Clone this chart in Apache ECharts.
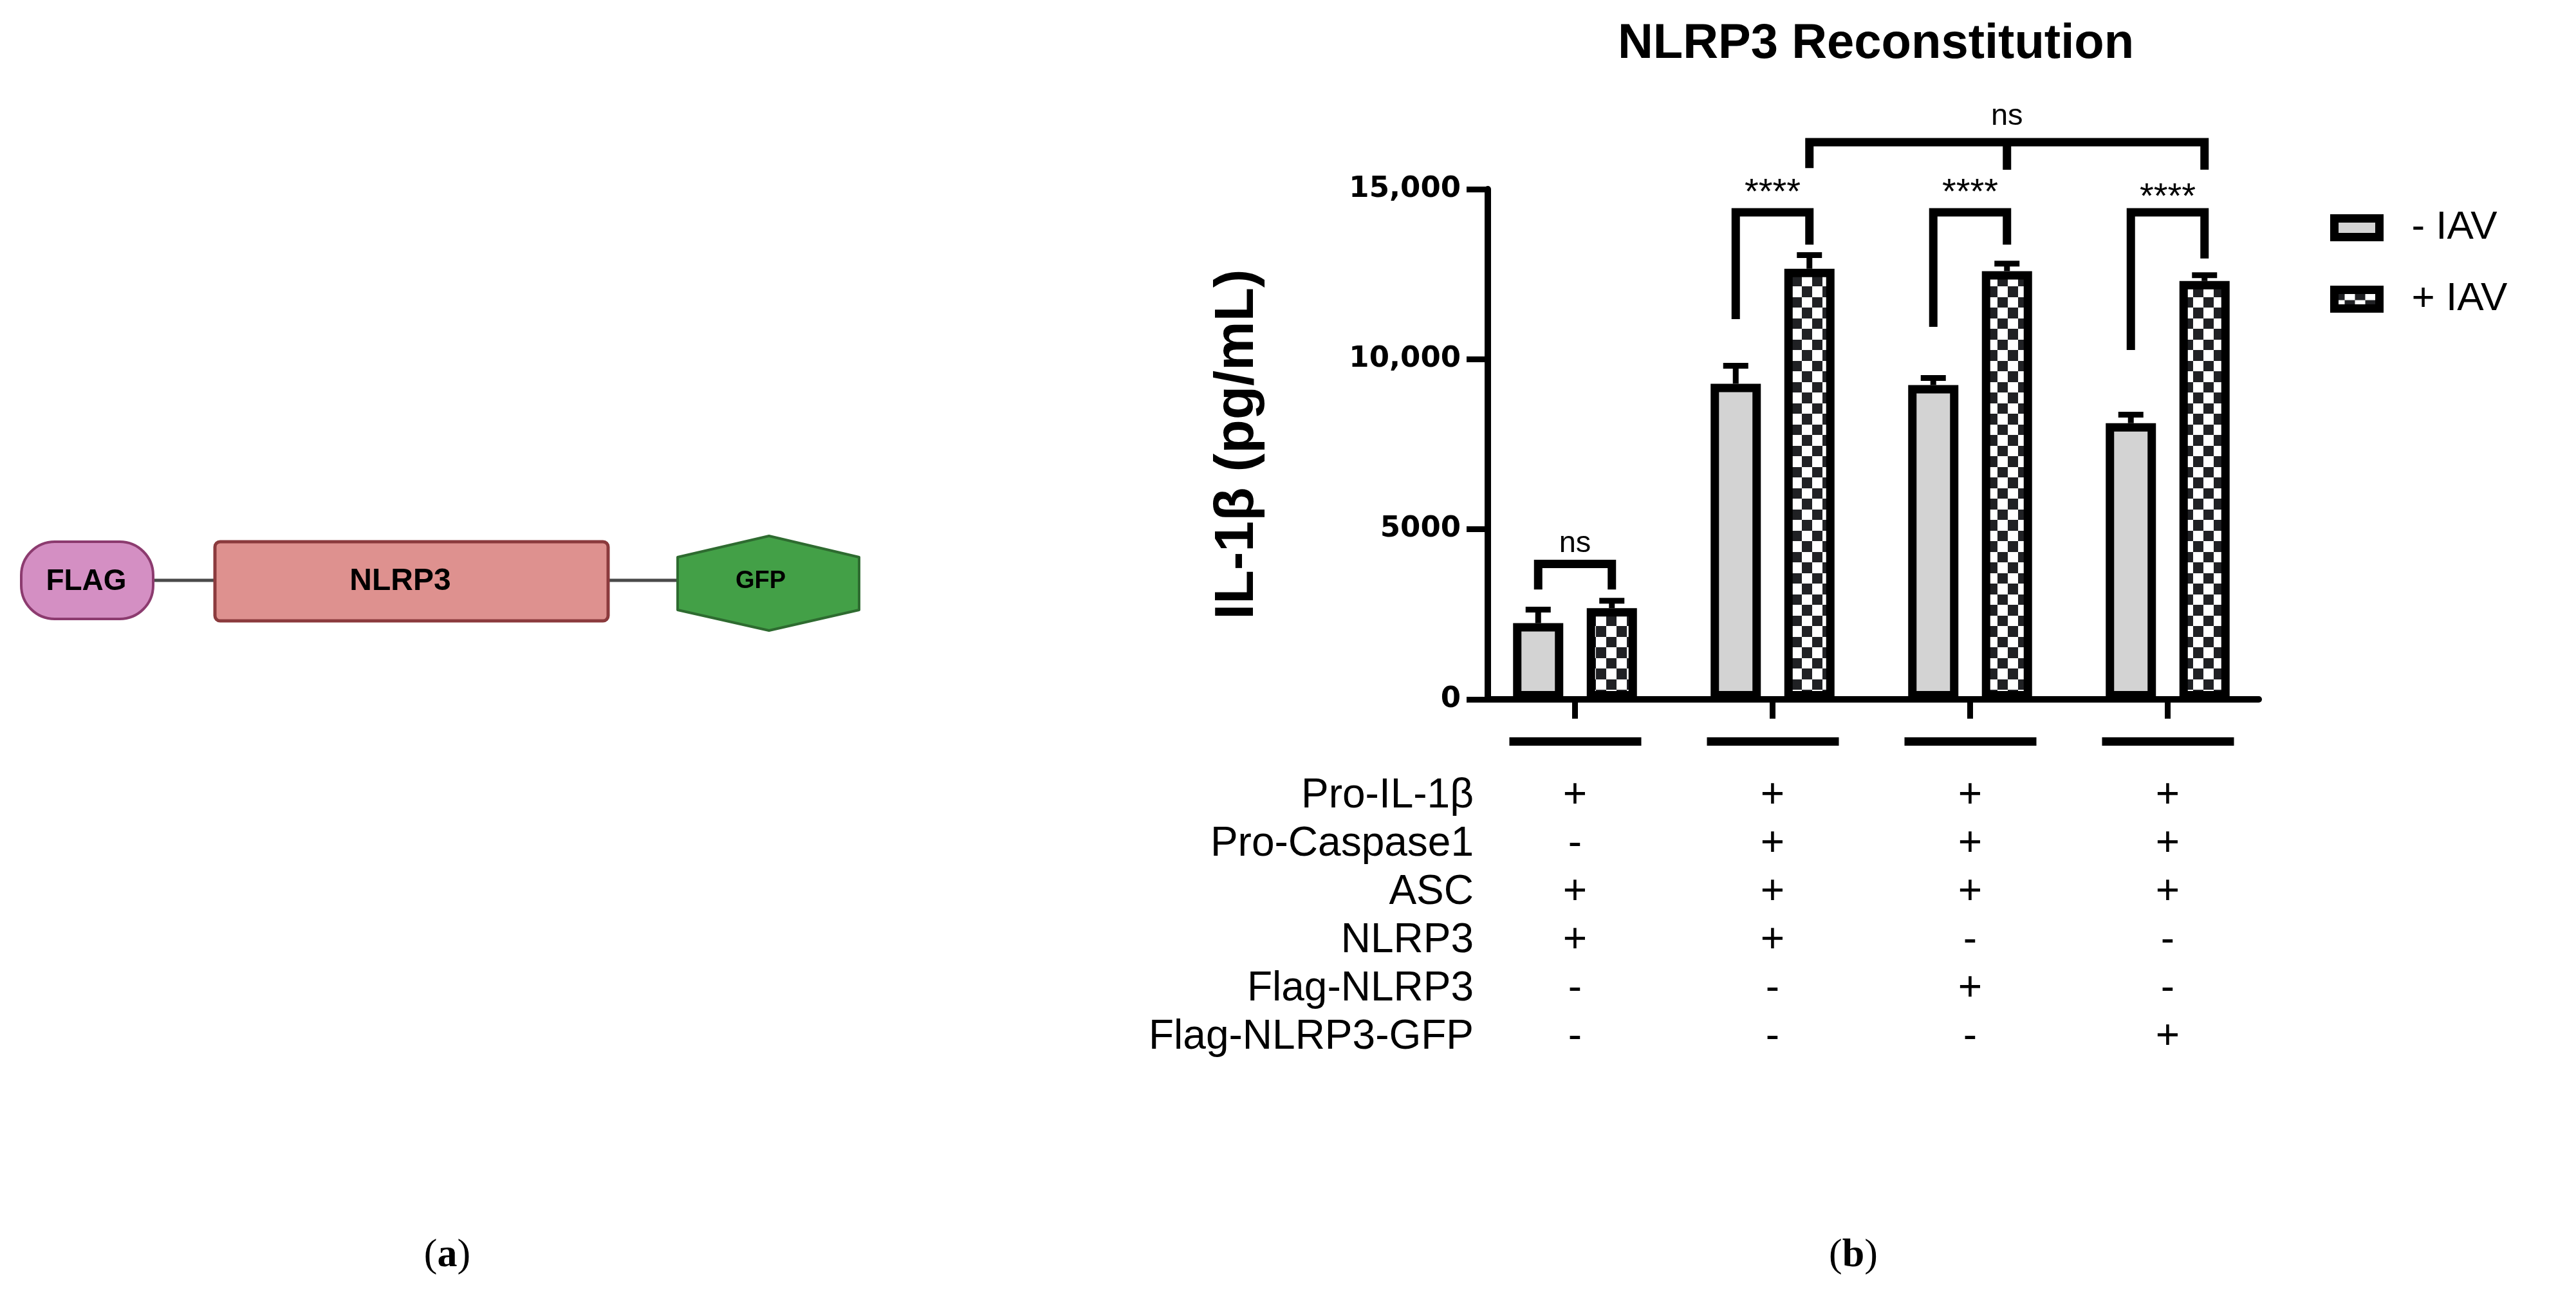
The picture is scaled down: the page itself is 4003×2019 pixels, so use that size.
<!DOCTYPE html>
<html><head><meta charset="utf-8">
<script src="https://cdn.jsdelivr.net/npm/echarts@6/dist/echarts.min.js"></script>
<style>html,body{margin:0;padding:0;background:#fff}#c{width:4003px;height:2019px}</style>
</head><body><div id="c"></div>
<script>
// ---------------- data ----------------
const categories = ['Group 1', 'Group 2', 'Group 3', 'Group 4'];
const seriesNames = ['- IAV', '+ IAV'];
const minusIAV = [2240, 9280, 9240, 8120];
const minusIAVErr = [400, 530, 210, 250];
const plusIAV = [2680, 12660, 12590, 12300];
const plusIAVErr = [220, 400, 220, 170];
const yTickValues = [0, 5000, 10000, 15000];
const yTickLabels = ['0', '5000', '10,000', '15,000'];
const rowLabels = ['Pro-IL-1β', 'Pro-Caspase1', 'ASC', 'NLRP3', 'Flag-NLRP3', 'Flag-NLRP3-GFP'];
const rowSigns = [
  ['+', '+', '+', '+'],
  ['-', '+', '+', '+'],
  ['+', '+', '+', '+'],
  ['+', '+', '-', '-'],
  ['-', '-', '+', '-'],
  ['-', '-', '-', '+']
];
// brackets between the two bars of a group
const pairCats = [0, 1, 2, 3];
const pairTops = [3980, 14320, 14320, 14320];
const pairLeftEnds = [3230, 11180, 10950, 10270];
const pairRightEnds = [3230, 13370, 13370, 12960];
const pairLabels = ['ns', '****', '****', '****'];
const pairLabelY = [4580, 14870, 14870, 14750];
// bracket across the +IAV bars of groups 2-4
const spanCats = [1, 2, 3];
const spanTop = 16380;
const spanLegEnds = [15620, 15570, 15570];
const spanLabel = 'ns';
const spanLabelY = 17140;

// ---------------- layout / style ----------------
const BAR_W = 78, BAR_GAP = 0.468;
const OFF = BAR_W * (1 + BAR_GAP) / 2;
const LINE_W = 13;
const FONT = '"Liberation Sans", Arial, sans-serif';

const pc = document.createElement('canvas');
pc.width = 32; pc.height = 33;
const pctx = pc.getContext('2d');
pctx.fillStyle = '#ffffff'; pctx.fillRect(0, 0, 32, 33);
pctx.fillStyle = '#202124'; pctx.fillRect(0, 0, 16, 16); pctx.fillRect(16, 16, 16, 17);
const checker = { image: pc, repeat: 'repeat' };

function errRenderer(sign) {
  return function (params, api) {
    const c = api.value(0), v = api.value(1), e = api.value(2);
    const base = api.coord([c, v]);
    const top = api.coord([c, v + e]);
    const x = base[0] + sign * OFF;
    return { type: 'group', children: [
      { type: 'line', shape: { x1: x, y1: base[1], x2: x, y2: top[1] }, style: { stroke: '#000', lineWidth: 9 } },
      { type: 'line', shape: { x1: x - 19.5, y1: top[1], x2: x + 19.5, y2: top[1] }, style: { stroke: '#000', lineWidth: 9 } }
    ] };
  };
}

function renderPair(params, api) {
  const i = params.dataIndex;
  const c = pairCats[i];
  const cx = api.coord([c, 0])[0];
  const xl = cx - OFF, xr = cx + OFF;
  const yt = api.coord([c, pairTops[i]])[1];
  const yl = api.coord([c, pairLeftEnds[i]])[1];
  const yr = api.coord([c, pairRightEnds[i]])[1];
  const ylab = api.coord([c, pairLabelY[i]])[1];
  const fs = pairLabels[i] === 'ns' ? 47 : 56;
  return { type: 'group', children: [
    { type: 'polyline', shape: { points: [[xl, yl], [xl, yt], [xr, yt], [xr, yr]] },
      style: { stroke: '#000', lineWidth: LINE_W, fill: null, lineJoin: 'miter', lineCap: 'butt' } },
    { type: 'text', x: cx, y: ylab,
      style: { text: pairLabels[i], fill: '#000', font: fs + 'px ' + FONT, align: 'center', verticalAlign: 'middle' } }
  ] };
}

function renderSpan(params, api) {
  const xs = spanCats.map(c => api.coord([c, 0])[0] + OFF);
  const yt = api.coord([spanCats[0], spanTop])[1];
  const ends = spanLegEnds.map(v => api.coord([spanCats[0], v])[1]);
  const ylab = api.coord([spanCats[0], spanLabelY])[1];
  const last = xs.length - 1;
  const children = [
    { type: 'polyline', shape: { points: [[xs[0], ends[0]], [xs[0], yt], [xs[last], yt], [xs[last], ends[last]]] },
      style: { stroke: '#000', lineWidth: LINE_W, fill: null, lineJoin: 'miter', lineCap: 'butt' } }
  ];
  for (let k = 1; k < last; k++) {
    children.push({ type: 'line', shape: { x1: xs[k], y1: yt, x2: xs[k], y2: ends[k] }, style: { stroke: '#000', lineWidth: LINE_W } });
  }
  children.push({ type: 'text', x: xs[1], y: ylab,
    style: { text: spanLabel, fill: '#000', font: '47px ' + FONT, align: 'center', verticalAlign: 'middle' } });
  return { type: 'group', children };
}

function renderUnderline(params, api) {
  const p = api.coord([api.value(0), 0]);
  return { type: 'rect', shape: { x: p[0] - 102, y: p[1] + 59, width: 205, height: 13 }, style: { fill: '#000' } };
}

const tableData = [];
rowSigns.forEach((row, r) => row.forEach((s, c) => tableData.push([c, r, s])));

function renderSign(params, api) {
  const p = api.coord([api.value(0), api.value(1)]);
  const d = tableData[params.dataIndex];
  return { type: 'text', x: p[0], y: p[1],
    style: { text: d[2], fill: '#000', font: '64px ' + FONT, align: 'center', verticalAlign: 'middle' } };
}

const chart = echarts.init(document.getElementById('c'), null, { renderer: 'canvas' });
chart.setOption({
  animation: false,
  backgroundColor: '#ffffff',
  title: {
    text: 'NLRP3 Reconstitution', left: 2910, top: 26, textAlign: 'center',
    textStyle: { fontFamily: FONT, fontWeight: 'bold', fontSize: 76, color: '#000' }
  },
  legend: {
    data: seriesNames, orient: 'vertical', left: 3616, top: 318,
    itemWidth: 70, itemHeight: 29, itemGap: 49, icon: 'rect', selectedMode: false,
    itemStyle: { borderColor: '#000', borderWidth: 13 },
    textStyle: { fontFamily: FONT, fontSize: 62, color: '#000', padding: [0, 0, 0, 45], lineHeight: 60 }
  },
  grid: [
    { left: 2312, top: 294, width: 1198, height: 793, outerBoundsMode: 'none' },
    { left: 2294, top: 294, width: 1228, height: 793, outerBoundsMode: 'none' },
    { left: 2294, top: 1200, width: 1228, height: 450, outerBoundsMode: 'none' }
  ],
  xAxis: [
    { gridIndex: 0, type: 'value', min: 0, max: 1, axisLine: { show: true, onZero: false, lineStyle: { color: '#000', width: 10 } },
      axisTick: { show: false }, axisLabel: { show: false }, splitLine: { show: false } },
    { gridIndex: 1, type: 'category', data: categories,
      axisLine: { show: false }, axisLabel: { show: false },
      axisTick: { show: true, alignWithLabel: true, interval: 0, length: 30, lineStyle: { color: '#000', width: 9 } } },
    { gridIndex: 2, type: 'category', data: categories, show: false }
  ],
  yAxis: [
    { gridIndex: 0, type: 'value', min: 0, max: 15000, interval: 5000,
      axisLine: { show: true, onZero: false, lineStyle: { color: '#000', width: 10 } },
      axisTick: { show: true, inside: false, length: 33, lineStyle: { color: '#000', width: 9 } },
      axisLabel: { margin: 42, color: '#000', fontFamily: '"DejaVu Sans", sans-serif', fontWeight: 'bold', fontSize: 45,
        formatter: v => yTickLabels[yTickValues.indexOf(v)] },
      splitLine: { show: false },
      name: 'IL-1β (pg/mL)', nameLocation: 'middle', nameGap: 346, nameRotate: 90,
      nameTextStyle: { fontFamily: FONT, fontWeight: 'bold', fontSize: 86, color: '#000' } },
    { gridIndex: 1, type: 'value', min: 0, max: 15000, show: false },
    { gridIndex: 2, type: 'category', data: rowLabels, inverse: true,
      axisLine: { show: false }, axisTick: { show: false },
      axisLabel: { interval: 0, margin: 4, color: '#000', fontFamily: FONT, fontSize: 64 } }
  ],
  series: [
    { name: seriesNames[0], type: 'bar', xAxisIndex: 1, yAxisIndex: 1, data: minusIAV,
      barWidth: BAR_W, barGap: (BAR_GAP * 100) + '%',
      itemStyle: { color: '#d3d3d3', borderColor: '#000', borderWidth: LINE_W } },
    { name: seriesNames[1], type: 'bar', xAxisIndex: 1, yAxisIndex: 1, data: plusIAV,
      barWidth: BAR_W, barGap: (BAR_GAP * 100) + '%',
      itemStyle: { color: checker, borderColor: '#000', borderWidth: LINE_W } },
    { type: 'custom', xAxisIndex: 1, yAxisIndex: 1, renderItem: errRenderer(-1), z: 5,
      data: minusIAV.map((v, i) => [i, v, minusIAVErr[i]]), encode: { x: 0, y: 1 } },
    { type: 'custom', xAxisIndex: 1, yAxisIndex: 1, renderItem: errRenderer(1), z: 5,
      data: plusIAV.map((v, i) => [i, v, plusIAVErr[i]]), encode: { x: 0, y: 1 } },
    { type: 'custom', xAxisIndex: 1, yAxisIndex: 1, renderItem: renderPair, z: 5, clip: false,
      data: pairCats.map((c, i) => [c, pairTops[i]]), encode: { x: 0, y: 1 } },
    { type: 'custom', xAxisIndex: 1, yAxisIndex: 1, renderItem: renderSpan, z: 5, clip: false,
      data: [[spanCats[0], spanTop]], encode: { x: 0, y: 1 } },
    { type: 'custom', xAxisIndex: 1, yAxisIndex: 1, renderItem: renderUnderline, z: 5, clip: false,
      data: categories.map((c, i) => [i, 0]), encode: { x: 0, y: 1 } },
    { type: 'custom', xAxisIndex: 2, yAxisIndex: 2, renderItem: renderSign, clip: false,
      data: tableData.map(d => [d[0], d[1]]), encode: { x: 0, y: 1 } }
  ],
  graphic: [
    { type: 'line', shape: { x1: 236, y1: 902, x2: 336, y2: 902 }, style: { stroke: '#4a4a4a', lineWidth: 5 } },
    { type: 'line', shape: { x1: 943, y1: 902, x2: 1055, y2: 902 }, style: { stroke: '#4a4a4a', lineWidth: 5 } },
    { type: 'rect', shape: { x: 33, y: 842, width: 205, height: 120, r: 52 },
      style: { fill: '#d48fc3', stroke: '#8c3b6f', lineWidth: 4 } },
    { type: 'text', x: 134, y: 904, style: { text: 'FLAG', font: 'bold 46px ' + FONT, fill: '#000', align: 'center', verticalAlign: 'middle' } },
    { type: 'rect', shape: { x: 334, y: 842, width: 611, height: 123, r: 8 },
      style: { fill: '#de918f', stroke: '#8b3a3d', lineWidth: 5 } },
    { type: 'text', x: 622, y: 904, style: { text: 'NLRP3', font: 'bold 48px ' + FONT, fill: '#000', align: 'center', verticalAlign: 'middle' } },
    { type: 'polygon', shape: { points: [[1195, 833], [1335, 866], [1335, 948], [1195, 980], [1053, 948], [1053, 866]] },
      style: { fill: '#43a047', stroke: '#2e6b30', lineWidth: 4, lineJoin: 'round' } },
    { type: 'text', x: 1182, y: 904, style: { text: 'GFP', font: 'bold 38px ' + FONT, fill: '#000', align: 'center', verticalAlign: 'middle' } },
    { type: 'text', x: 695, y: 1952, style: { text: '{p|(}{b|a}{p|)}', align: 'center', verticalAlign: 'middle',
      rich: { p: { fontFamily: '"Liberation Serif", serif', fontSize: 62, fill: '#000' }, b: { fontFamily: '"Liberation Serif", serif', fontWeight: 'bold', fontSize: 62, fill: '#000' } } } },
    { type: 'text', x: 2880, y: 1952, style: { text: '{p|(}{b|b}{p|)}', align: 'center', verticalAlign: 'middle',
      rich: { p: { fontFamily: '"Liberation Serif", serif', fontSize: 62, fill: '#000' }, b: { fontFamily: '"Liberation Serif", serif', fontWeight: 'bold', fontSize: 62, fill: '#000' } } } }
  ]
});
</script>
</body></html>
